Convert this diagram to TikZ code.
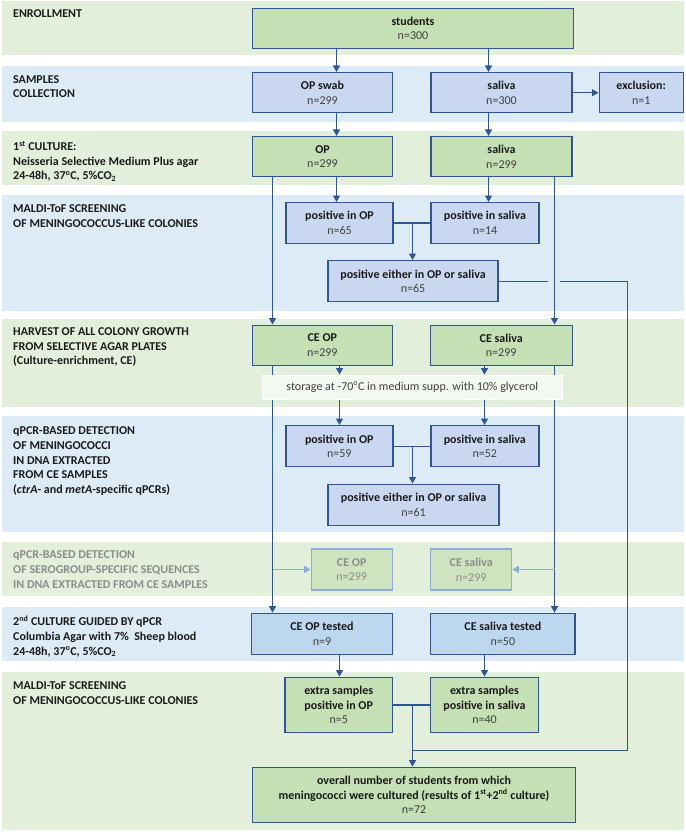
\documentclass[tikz,border=0pt]{standalone}
\usepackage{fontspec}
\setmainfont{Carlito}
\usetikzlibrary{arrows.meta}
\definecolor{bandG}{HTML}{E2EFDA}
\definecolor{bandB}{HTML}{DDEBF7}
\definecolor{boxG}{HTML}{C5E0B4}
\definecolor{boxB}{HTML}{C9D8F0}
\definecolor{boxBB}{HTML}{BDD7EE}
\definecolor{boxGL}{HTML}{CDE4BF}
\definecolor{edge}{HTML}{2F5597}
\definecolor{lightedge}{HTML}{8FAADC}
\definecolor{txt}{HTML}{1A1A1A}
\definecolor{ntxt}{HTML}{404040}
\definecolor{greytxt}{HTML}{8C8C8C}
\definecolor{storefill}{HTML}{F3F8F0}
\newcommand{\nval}[1]{{\color{ntxt}#1}}
\begin{document}
\begin{tikzpicture}[x=1pt,y=-1pt,
  lbl/.style={anchor=north west, inner sep=0pt, align=left, text=txt,
    font=\fontsize{12}{14.6}\selectfont\bfseries},
  boxbase/.style={draw=edge, line width=1.4pt, text=txt, align=center, inner sep=0pt,
    font=\fontsize{12}{14.6}\selectfont},
  gbox/.style={boxbase, fill=boxG},
  bbox/.style={boxbase, fill=boxB},
  bbbox/.style={boxbase, fill=boxBB},
  sbox/.style={draw=lightedge, line width=1.2pt, fill=boxGL, text=greytxt, align=center,
    inner sep=0pt, font=\fontsize{12}{14.6}\selectfont},
  storebox/.style={draw=white, line width=1.2pt, fill=storefill, text=ntxt, inner sep=0pt,
    font=\fontsize{12}{14.6}\selectfont},
  ln/.style={draw=edge, line width=1.3pt},
  arr/.style={ln, -{Triangle[length=6.5pt,width=7pt]}},
  larr/.style={draw=lightedge, line width=1.2pt, -{Triangle[length=6.5pt,width=7pt]}}
]
\useasboundingbox (0,0) rectangle (685,832);
% bands
\fill[bandG] (1.5,0.7) rectangle (683.5,55);
\fill[bandB] (1.5,65.7) rectangle (683.5,121.7);
\fill[bandG] (1.5,131) rectangle (683.5,185);
\fill[bandB] (1.5,195) rectangle (683.5,310.7);
\fill[bandG] (1.5,319.3) rectangle (683.5,406.7);
\fill[bandB] (1.5,416) rectangle (683.5,531.7);
\fill[bandG] (1.5,542.3) rectangle (683.5,595.7);
\fill[bandB] (1.5,606.7) rectangle (683.5,661);
\fill[bandG] (1.5,671.7) rectangle (683.5,830);

% left labels
\node[lbl] (l1) at (13,9.8) {ENROLLMENT};
\node[lbl] (l2) at (13,75.1) {SAMPLES\\COLLECTION};
\node[lbl] (l3) at (13,141.1) {1\textsuperscript{st} CULTURE:\\Neisseria Selective Medium Plus agar\\24-48h, 37\textsuperscript{o}C, 5\%CO\textsubscript{2}};
\node[lbl] (l4) at (13,204.8) {MALDI-ToF SCREENING\\OF MENINGOCOCCUS-LIKE COLONIES};
\node[lbl] (l5) at (13,327.5) {HARVEST OF ALL COLONY GROWTH\\FROM SELECTIVE AGAR PLATES\\(Culture-enrichment, CE)};
\node[lbl] (l6) at (13,426.8) {qPCR-BASED DETECTION\\OF MENINGOCOCCI\\IN DNA EXTRACTED\\FROM CE SAMPLES\\(\textit{ctrA}- and \textit{metA}-specific qPCRs)};
\node[lbl, text=greytxt] (l7) at (13,550.8) {qPCR-BASED DETECTION\\OF SEROGROUP-SPECIFIC SEQUENCES\\IN DNA EXTRACTED FROM CE SAMPLES};
\node[lbl] (l8) at (13,615.8) {2\textsuperscript{nd} CULTURE GUIDED BY qPCR\\Columbia Agar with 7\%~ Sheep blood\\24-48h, 37\textsuperscript{o}C, 5\%CO\textsubscript{2}};
\node[lbl] (l9) at (13,681.5) {MALDI-ToF SCREENING\\OF MENINGOCOCCUS-LIKE COLONIES};

% column coordinates
\coordinate (xL) at (272.5,0);
\coordinate (xA) at (336.5,0);
\coordinate (xB) at (488.5,0);
\coordinate (xR) at (554.5,0);
\coordinate (xA2) at (339.5,0);
\coordinate (xB2) at (484.5,0);
\coordinate (xM) at (412.5,0);
\coordinate (xE) at (627.5,0);
\coordinate (g1) at (548,0);
\coordinate (g2) at (559.5,0);
\coordinate (jn) at (412.5,750.5);

% boxes
\node[gbox, minimum width=321pt, minimum height=40pt] (students) at (413,28.3) {\textbf{students}\\\nval{n=300}};
\node[bbox, minimum width=140pt, minimum height=40pt] (opswab) at (322.5,92.7) {\textbf{OP swab}\\\nval{n=299}};
\node[bbox, minimum width=141pt, minimum height=40pt] (sal1) at (501.5,92.7) {\textbf{saliva}\\\nval{n=300}};
\node[bbox, minimum width=84pt, minimum height=40pt] (excl) at (641.2,92.7) {\textbf{exclusion:}\\\nval{n=1}};
\node[gbox, minimum width=140pt, minimum height=40pt] (op2) at (322.5,156.7) {\textbf{OP}\\\nval{n=299}};
\node[gbox, minimum width=141pt, minimum height=40pt] (sal2) at (501.5,156.7) {\textbf{saliva}\\\nval{n=299}};
\node[bbox, minimum width=107pt, minimum height=40.6pt] (posop1) at (339.5,223) {\textbf{positive in OP}\\\nval{n=65}};
\node[bbox, minimum width=108pt, minimum height=40.6pt] (possal1) at (485,223) {\textbf{positive in saliva}\\\nval{n=14}};
\node[bbox, minimum width=170pt, minimum height=41pt] (either1) at (413,281.2) {\textbf{positive either in OP or saliva}\\\nval{n=65}};
\node[gbox, minimum width=140pt, minimum height=40pt] (ceop) at (322.3,345.2) {\textbf{CE OP}\\\nval{n=299}};
\node[gbox, minimum width=142pt, minimum height=40pt] (cesal) at (501.2,345.2) {\textbf{CE saliva}\\\nval{n=299}};
\node[bbox, minimum width=107pt, minimum height=41pt] (posop2) at (339.3,446.2) {\textbf{positive in OP}\\\nval{n=59}};
\node[bbox, minimum width=108pt, minimum height=41pt] (possal2) at (484.8,446.2) {\textbf{positive in saliva}\\\nval{n=52}};
\node[bbox, minimum width=171pt, minimum height=41pt] (either2) at (413.5,504.7) {\textbf{positive either in OP or saliva}\\\nval{n=61}};
\node[sbox, minimum width=81pt, minimum height=41pt] (seroop) at (351.7,569.5) {\textbf{CE OP}\\n=299};
\node[sbox, minimum width=81pt, minimum height=41pt] (serosal) at (471.2,569.5) {\textbf{CE saliva}\\n=299};
\node[bbbox, minimum width=140.6pt, minimum height=41pt] (testop) at (322,633.8) {\textbf{CE OP tested}\\\nval{n=9}};
\node[bbbox, minimum width=144.3pt, minimum height=41pt] (testsal) at (502.9,633.8) {\textbf{CE saliva tested}\\\nval{n=50}};
\node[gbox, minimum width=107.3pt, minimum height=55.4pt] (extraop) at (338.7,705) {\textbf{extra samples}\\\textbf{positive in OP}\\\nval{n=5}};
\node[gbox, minimum width=107.6pt, minimum height=55.4pt] (extrasal) at (484.5,705) {\textbf{extra samples}\\\textbf{positive in saliva}\\\nval{n=40}};
\node[gbox, minimum width=323.4pt, minimum height=55pt] (overall) at (414,794.8) {\textbf{overall number of students from which}\\\textbf{meningococci were cultured (results of 1\textsuperscript{st}+2\textsuperscript{nd} culture)}\\\nval{n=72}};

% connectors
\draw[arr] (students.south -| xA) -- (opswab.north -| xA);
\draw[arr] (students.south -| xB) -- (sal1.north -| xB);
\draw[arr] (sal1.east) -- (excl.west);
\draw[arr] (opswab.south -| xA) -- (op2.north -| xA);
\draw[arr] (sal1.south -| xB) -- (sal2.north -| xB);
\draw[arr] (op2.south -| xA) -- (posop1.north -| xA);
\draw[arr] (sal2.south -| xB) -- (possal1.north -| xB);
\draw[arr] (op2.south -| xL) -- (ceop.north -| xL);
\draw[arr] (sal2.south -| xR) -- (cesal.north -| xR);
\draw[ln] (posop1.east) -- (possal1.west);
\draw[arr] (posop1.east -| xM) -- (either1.north -| xM);
\draw[ln] (either1.east) -- (either1.east -| g1);
\draw[ln] (either1.east -| g2) -- (either1.east -| xE) -- (xE |- jn) -- (jn);
\draw[arr] (ceop.south -| xL) -- (testop.north -| xL);
\draw[arr] (cesal.south -| xR) -- (testsal.north -| xR);
\draw[larr] (seroop.west -| xL) -- (seroop.west);
\draw[larr] (serosal.east -| xR) -- (serosal.east);
% storage box on top of the long lines
\node[storebox, minimum width=300pt, minimum height=24pt] (storage) at (412.3,387.2) {storage at -70\textsuperscript{o}C in medium supp. with 10\% glycerol};
\draw[arr] (ceop.south -| xA2) -- (storage.north -| xA2);
\draw[arr] (cesal.south -| xB2) -- (storage.north -| xB2);
\draw[arr] (storage.south -| xA2) -- (posop2.north -| xA2);
\draw[arr] (storage.south -| xB2) -- (possal2.north -| xB2);
\draw[ln] (posop2.east) -- (possal2.west);
\draw[arr] (posop2.east -| xM) -- (either2.north -| xM);
\draw[arr] (testop.south -| xA2) -- (extraop.north -| xA2);
\draw[arr] (testsal.south -| xB2) -- (extrasal.north -| xB2);
\draw[ln] (extraop.east) -- (extrasal.west);
\draw[arr] (extraop.east -| xM) -- (overall.north -| xM);
\end{tikzpicture}
\end{document}
